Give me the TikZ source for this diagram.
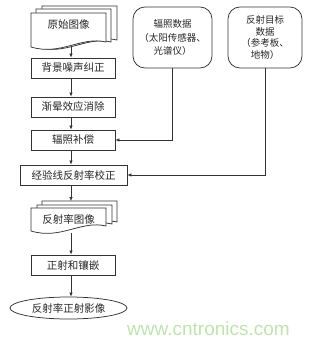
\documentclass[tikz,border=0pt]{standalone}
\usepackage{fontspec}
\setmainfont{Noto Sans CJK SC}
\newfontfamily\wmfont{Liberation Sans}
\usetikzlibrary{arrows.meta,positioning,shapes.geometric}

\definecolor{wmgreen}{RGB}{192,226,176}

\begin{document}
\begin{tikzpicture}[
  x=1pt, y=-1pt, >={Latex[length=4pt,width=3.5pt]},
  every node/.style={font=\fontsize{10.5}{12}\selectfont, text=black!85},
  box/.style={draw=black!80, line width=0.75pt, minimum width=84pt,
              minimum height=20pt, inner sep=1pt, align=center},
  roundbox/.style={draw=black!80, line width=0.75pt, rounded corners=12pt,
              minimum height=61pt, inner sep=1pt, align=center},
  page/.style={draw=black!80, line width=0.75pt, fill=white},
  link/.style={draw=black!80, line width=0.65pt},
  pics/docpage/.style={code={
    \draw[page] (0,0) -- (75,0) -- (75,#1)
      .. controls (50,#1-6) and (30,#1+14) .. (0,#1+5) -- cycle;
  }},
]
\useasboundingbox (0,0) rectangle (310,344);

% raw image stack
\pic at (42,6) {docpage=34};
\pic at (36,9) {docpage=33};
\pic at (31,13) {docpage=29};
\node (raw) at (68.5,25) {原始图像};
\coordinate (rawout) at (71,46);

% correction chain
\node[box] (noise) at (73,68) {背景噪声纠正};
\node[box] (vignet) at (73,107) {渐晕效应消除};
\node[box] (irrcomp) at (73,140) {辐照补偿};
\node[box, minimum width=107pt] (elc) at (73.5,175) {经验线反射率校正};

% input data
\node[roundbox, minimum width=79pt, font=\fontsize{9.5}{13.3}\selectfont]
  (irrdata) at (172.5,37.5) {辐照数据\\（太阳传感器、\\光谱仪）};
\node[roundbox, minimum width=74pt, font=\fontsize{9.5}{11.7}\selectfont]
  (target) at (265,37.5) {反射目标\\数据\\（参考板、\\地物）};

% reflectance image stack
\pic at (42,201) {docpage=21};
\pic at (37,205) {docpage=19};
\pic at (31,208) {docpage=18};
\node (refl) at (68.5,219) {反射率图像};
\coordinate (reflin) at (71,201);
\coordinate (reflout) at (71,233);

\node[box] (ortho) at (73,265) {正射和镶嵌};
\node[draw=black!80, line width=0.75pt, ellipse, minimum width=117pt,
      minimum height=22pt, inner sep=0pt] (final) at (68.5,308) {反射率正射影像};

% arrows
\draw[link, ->] (rawout) -- (rawout |- noise.north);
\draw[link, ->] (rawout |- noise.south) -- (rawout |- vignet.north);
\draw[link, ->] (rawout |- vignet.south) -- (rawout |- irrcomp.north);
\draw[link, ->] (rawout |- irrcomp.south) -- (rawout |- elc.north);
\draw[link, ->] (rawout |- elc.south) -- (reflin);
\draw[link, ->] (reflout) -- (reflout |- ortho.north);
\draw[link, ->] (reflout |- ortho.south) -- (reflout |- final.north);
\draw[link, ->] (irrdata.south) |- (irrcomp.east);
\draw[link, ->] (target.south) |- (elc.east);

% watermark
\node[font=\wmfont\fontsize{19}{19}\selectfont, text=wmgreen, anchor=base]
  (mark) at (208.5,335) {www.cntronics.com};
\end{tikzpicture}
\end{document}
